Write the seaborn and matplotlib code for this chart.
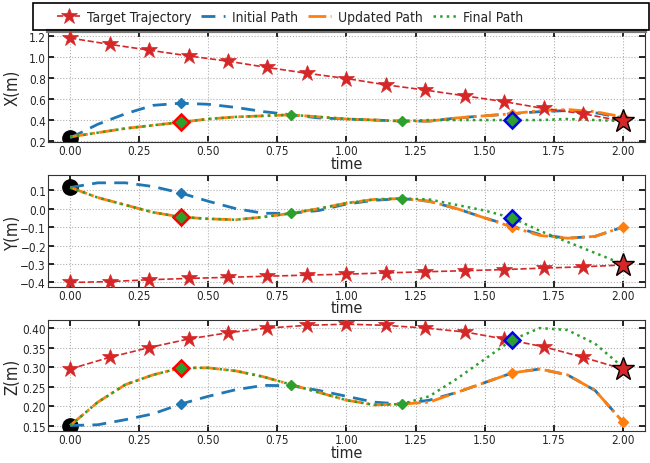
import numpy as np
import pandas as pd
import seaborn as sns
import matplotlib.pyplot as plt
from matplotlib.patches import Rectangle

# time grids
t_target = [0.0, 0.143, 0.286, 0.429, 0.571, 0.714, 0.857, 1.0,
            1.143, 1.286, 1.429, 1.571, 1.714, 1.857, 2.0]
t_path = [0.0, 0.1, 0.2, 0.3, 0.4, 0.5, 0.6, 0.7, 0.8, 0.9, 1.0,
          1.1, 1.2, 1.3, 1.4, 1.5, 1.6, 1.7, 1.8, 1.9, 2.0]

# target trajectory
target_x = [1.18, 1.12, 1.065, 1.01, 0.96, 0.90, 0.845, 0.795,
            0.735, 0.685, 0.63, 0.575, 0.51, 0.46, 0.39]
target_y = [-0.40, -0.395, -0.385, -0.378, -0.372, -0.366, -0.36, -0.355,
            -0.348, -0.342, -0.336, -0.33, -0.322, -0.315, -0.305]
target_z = [0.295, 0.325, 0.35, 0.372, 0.388, 0.40, 0.407, 0.41,
            0.407, 0.40, 0.39, 0.372, 0.352, 0.325, 0.295]

# initial path
init_x = [0.23, 0.36, 0.46, 0.54, 0.56, 0.55, 0.52, 0.48, 0.45, 0.42, 0.41,
          0.40, 0.39, 0.39, 0.42, 0.44, 0.46, 0.48, 0.49, 0.47, 0.42]
init_y = [0.115, 0.14, 0.14, 0.12, 0.085, 0.04, 0.0, -0.025, -0.025, -0.01, 0.025,
          0.045, 0.055, 0.04, 0.0, -0.05, -0.095, -0.14, -0.16, -0.15, -0.10]
init_z = [0.15, 0.152, 0.165, 0.18, 0.205, 0.225, 0.242, 0.253, 0.252, 0.24, 0.225,
          0.21, 0.205, 0.215, 0.235, 0.26, 0.285, 0.295, 0.28, 0.24, 0.16]

# updated path
upd_x = [0.24, 0.28, 0.32, 0.35, 0.38, 0.41, 0.43, 0.44, 0.45, 0.43, 0.41,
         0.40, 0.39, 0.39, 0.42, 0.44, 0.46, 0.49, 0.50, 0.48, 0.43]
upd_y = [0.115, 0.06, 0.02, -0.02, -0.045, -0.055, -0.06, -0.045, -0.025, 0.0, 0.03,
         0.05, 0.055, 0.04, 0.0, -0.05, -0.10, -0.145, -0.16, -0.15, -0.10]
upd_z = [0.15, 0.21, 0.255, 0.28, 0.298, 0.298, 0.29, 0.275, 0.255, 0.235, 0.215,
         0.203, 0.205, 0.21, 0.235, 0.26, 0.285, 0.295, 0.28, 0.24, 0.16]

# final path
fin_x = [0.24, 0.28, 0.32, 0.35, 0.38, 0.41, 0.43, 0.44, 0.45, 0.43, 0.41,
         0.40, 0.39, 0.40, 0.40, 0.40, 0.40, 0.40, 0.41, 0.40, 0.39]
fin_y = [0.115, 0.06, 0.02, -0.02, -0.045, -0.055, -0.06, -0.045, -0.025, 0.0, 0.03,
         0.05, 0.055, 0.05, 0.02, -0.01, -0.05, -0.12, -0.18, -0.24, -0.30]
fin_z = [0.15, 0.21, 0.255, 0.28, 0.298, 0.298, 0.29, 0.275, 0.255, 0.235, 0.215,
         0.203, 0.205, 0.225, 0.27, 0.32, 0.37, 0.40, 0.395, 0.36, 0.30]

ylabels = ["X(m)", "Y(m)", "Z(m)"]
ylims = [(0.19, 1.247), (-0.422, 0.18), (0.136, 0.421)]

sns.set_style("whitegrid", {
    "grid.linestyle": ":", "grid.color": "#b0b0b0",
    "xtick.direction": "in", "ytick.direction": "in",
    "axes.edgecolor": "#333333",
    "xtick.top": True, "ytick.right": True,
    "xtick.bottom": True, "ytick.left": True,
})
plt.rcParams["font.family"] = ["DejaVu Sans"]
plt.rcParams["font.stretch"] = "condensed"

c_red, c_blue, c_orange, c_green = "#d62728", "#1f77b4", "#ff7f0e", "#2ca02c"

fig, axes = plt.subplots(3, 1, figsize=(6.5, 4.64), dpi=100)
fig.subplots_adjust(left=0.074, right=0.992, top=0.931, bottom=0.069, hspace=0.30)

tgt = [target_x, target_y, target_z]
ini = [init_x, init_y, init_z]
upd = [upd_x, upd_y, upd_z]
fin = [fin_x, fin_y, fin_z]

for i, ax in enumerate(axes):
    sns.lineplot(x=t_target, y=tgt[i], ax=ax, color=c_red, linestyle="--", lw=1.2,
                 marker="*", markersize=12, markeredgewidth=0.5, markeredgecolor=c_red,
                 label="Target Trajectory", zorder=3)
    sns.lineplot(x=t_path, y=ini[i], ax=ax, color=c_blue, linestyle=(0, (5, 3)), lw=2,
                 label="Initial Path", zorder=2)
    sns.lineplot(x=t_path, y=upd[i], ax=ax, color=c_orange, linestyle="-.", lw=2,
                 label="Updated Path", zorder=2.5)
    sns.lineplot(x=t_path, y=fin[i], ax=ax, color=c_green, linestyle=":", lw=1.8,
                 label="Final Path", zorder=2.7)

    # waypoint markers
    ax.plot(t_path[4], ini[i][4], marker="D", ms=5, color=c_blue, zorder=4)
    ax.plot([t_path[16], t_path[20]], [upd[i][16], upd[i][20]], ls="none",
            marker="D", ms=5, color=c_orange, zorder=4)
    ax.plot([t_path[8], t_path[12]], [fin[i][8], fin[i][12]], ls="none",
            marker="D", ms=5, color=c_green, zorder=4)
    ax.plot(t_path[4], fin[i][4], marker="D", ms=8, mfc=c_green, mec="red",
            mew=1.8, zorder=5)
    ax.plot(t_path[16], fin[i][16], marker="D", ms=8, mfc=c_green, mec="blue",
            mew=1.8, zorder=5)
    ax.plot(t_path[0], ini[i][0], marker="o", ms=11, color="black", zorder=1.5)
    ax.plot(t_target[-1], tgt[i][-1], marker="*", ms=17, mfc=c_red, mec="black",
            mew=1, zorder=6)

    ax.set_ylim(*ylims[i])
    ax.set_xlim(-0.08, 2.08)
    ax.set_xticks([0, 0.25, 0.5, 0.75, 1.0, 1.25, 1.5, 1.75, 2.0])
    ax.set_xlabel("time", fontsize=11.5, labelpad=-1)
    ax.set_ylabel(ylabels[i], fontsize=12)
    ax.yaxis.set_label_coords(-0.044, 0.5)
    ax.tick_params(labelsize=8.5, length=4, width=1.2, color="black", pad=1.5)
    ax.get_legend().remove()

axes[0].set_yticks([0.2, 0.4, 0.6, 0.8, 1.0, 1.2])
axes[1].set_yticks([-0.4, -0.3, -0.2, -0.1, 0.0, 0.1])
axes[2].set_yticks([0.15, 0.2, 0.25, 0.3, 0.35, 0.4])
axes[0].spines["top"].set_linewidth(3)
axes[0].spines["top"].set_color("#777777")

# legend box spanning the width
fig.patches.append(Rectangle((0.051, 0.933), 0.947, 0.058, transform=fig.transFigure,
                             fill=False, edgecolor="black", lw=1.2, zorder=10))
handles, labels = axes[0].get_legend_handles_labels()
fig.legend(handles[:4], labels[:4], loc="center left", ncol=4,
           bbox_to_anchor=(0.068, 0.962), fontsize=10, frameon=False,
           handlelength=1.7, handletextpad=0.5, columnspacing=0.7)

plt.savefig("out.png", dpi=100)
